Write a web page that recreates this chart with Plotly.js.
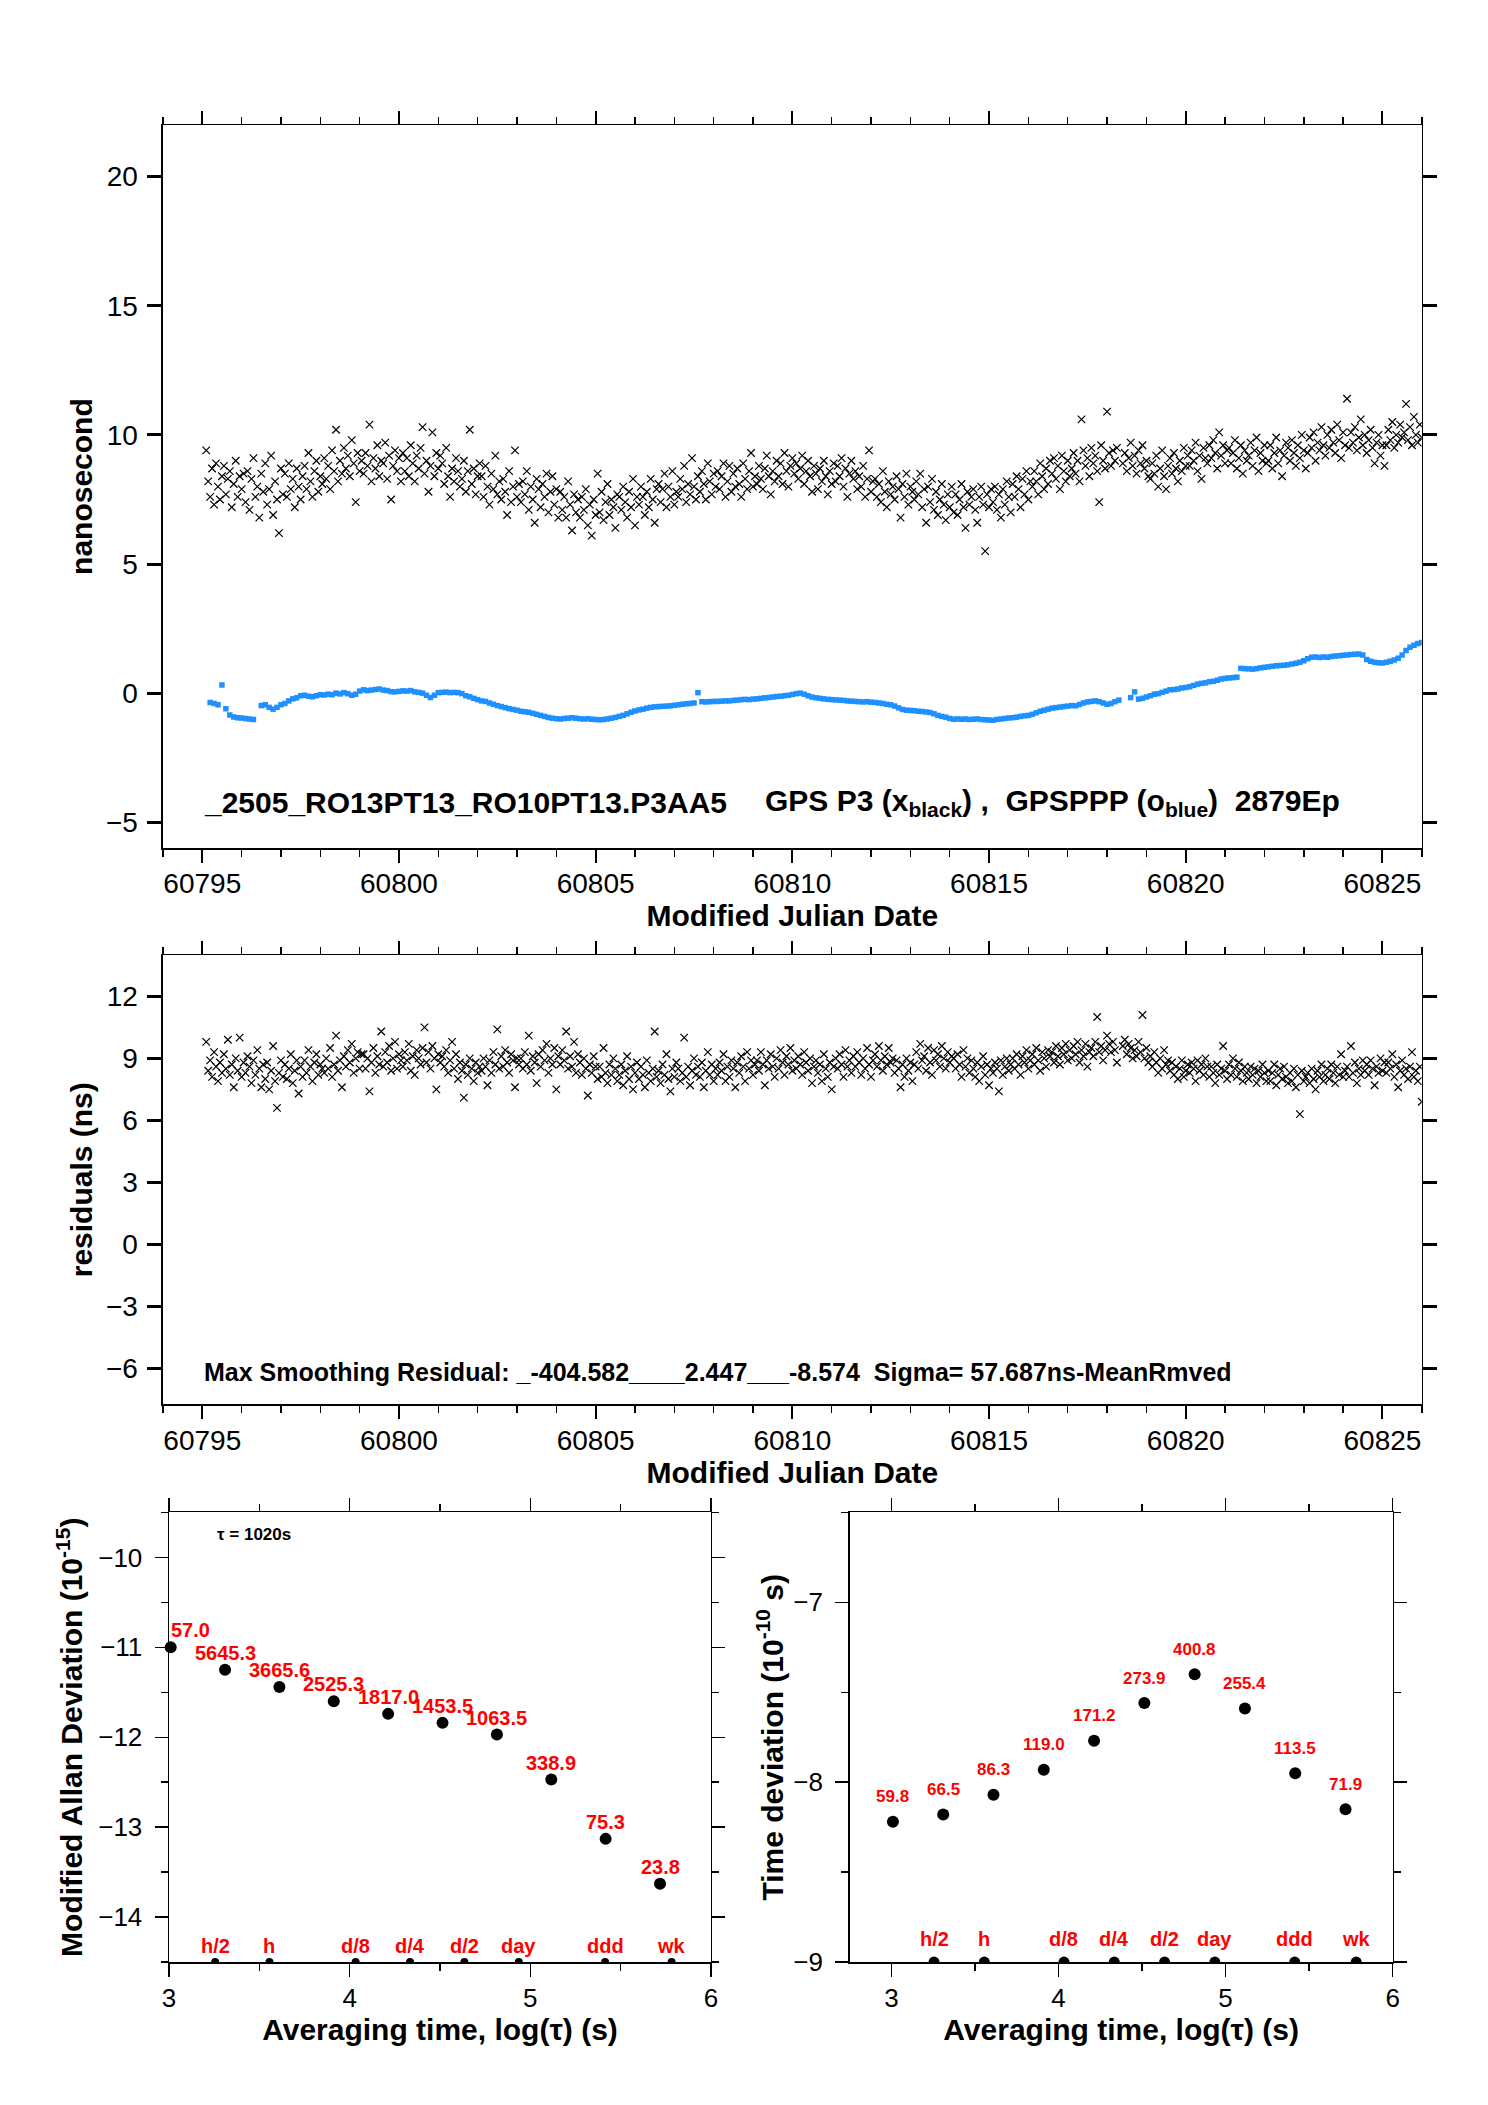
<!DOCTYPE html>
<html>
<head>
<meta charset="utf-8">
<script src="https://cdn.plot.ly/plotly-3.0.1.min.js"></script>
<style>html,body{margin:0;padding:0;background:#fff;}#chart{width:1488px;height:2105px;}</style>
</head>
<body>
<div id="chart"></div>
<script>
// ---------------- DATA ----------------
// GPS P3 (black x) offsets, ns; epochs start at MJD 60795.10, step 0.05 d
const p3Start = 60795.10;
const p3Step = 0.05;
const p3Offset = [
9.4,8.2,7.6,8.7,7.3,8.9,8.0,7.5,8.4,8.8, 7.7,8.3,8.6,7.2,8.1,9.0,7.6,8.4,7.9,8.5,
7.4,8.6,7.1,8.3,9.1,7.6,8.0,6.8,8.5,7.8, 8.9,7.3,7.9,9.2,6.9,8.2,7.5,6.2,8.7,7.7,
8.5,7.6,8.9,7.9,8.3,7.2,8.7,8.0,7.5,8.4, 8.8,7.9,9.3,8.2,7.6,8.6,9.0,7.8,8.4,8.1,
9.1,8.3,8.8,7.9,9.4,8.6,10.2,8.2,9.0,8.5, 9.5,8.7,9.2,8.4,9.8,8.9,7.4,9.3,8.6,9.0,
8.5,9.3,8.8,10.4,8.2,9.1,8.7,9.6,8.4,9.0, 8.9,9.7,8.3,9.2,7.5,8.8,9.4,8.6,9.1,8.2,
9.3,8.6,9.1,8.4,9.6,8.9,8.2,9.2,8.7,9.5, 10.3,8.5,9.0,7.8,8.8,10.1,8.4,9.3,8.7,9.2,
8.9,8.1,9.5,8.4,7.6,8.7,8.2,9.1,8.6,8.0, 8.3,9.0,7.8,8.6,10.2,8.1,8.7,7.7,8.4,8.9,
8.4,7.6,8.8,8.0,7.3,8.5,7.9,9.2,7.7,8.2, 7.5,8.3,7.8,6.9,8.6,7.4,8.0,9.4,7.6,8.1,
7.4,8.2,7.7,8.6,7.1,8.0,7.5,6.6,8.3,7.9, 7.2,8.1,7.6,8.5,7.0,7.8,8.4,7.3,7.9,6.8,
7.8,7.1,7.6,6.8,8.2,7.3,6.3,7.7,7.0,7.5, 6.8,7.6,7.1,7.9,6.5,7.3,6.1,7.5,6.9,8.5,
7.0,7.8,6.7,7.4,8.1,6.9,7.5,7.2,6.4,7.7, 7.6,7.1,8.0,7.4,6.8,7.8,7.2,8.3,6.5,7.6,
7.3,8.0,7.6,6.9,7.8,7.2,8.3,7.5,6.6,7.9, 8.1,7.4,7.9,8.5,7.2,8.0,7.6,8.6,7.3,7.8,
7.6,8.3,7.9,8.8,7.4,8.1,7.7,9.1,8.0,7.5, 8.4,7.8,8.6,8.1,7.5,8.9,8.2,7.7,8.5,8.0,
8.6,7.9,8.4,8.9,7.6,8.2,8.8,7.8,8.5,8.0, 8.7,8.1,7.6,8.9,8.3,7.9,8.6,9.3,8.0,8.4,
8.1,8.8,8.3,7.9,8.7,9.2,8.4,7.7,8.6,8.2, 9.0,8.4,8.9,8.1,9.3,8.6,8.0,8.8,9.1,8.5,
8.9,8.3,8.7,9.2,8.1,8.6,9.0,8.4,7.8,8.8, 8.5,7.9,8.7,8.2,9.0,8.4,7.7,8.6,8.1,8.9,
8.2,8.8,8.4,9.1,8.0,8.7,7.6,8.5,9.0,8.3, 8.6,7.9,8.4,8.0,8.8,7.6,8.3,9.4,7.8,8.2,
8.3,7.6,8.1,7.4,8.6,7.8,7.2,8.2,7.7,8.0, 7.5,8.4,7.9,6.8,8.1,7.6,8.5,7.3,8.0,7.8,
7.5,8.2,7.7,8.5,7.2,7.9,6.6,8.0,7.4,8.3, 7.1,7.8,6.9,7.5,8.1,7.3,6.7,7.7,7.2,8.0,
7.0,7.7,6.9,7.5,8.1,7.2,6.4,7.8,7.3,7.6, 7.9,7.1,6.6,7.6,8.0,7.3,5.5,7.7,7.2,7.9,
7.4,8.0,7.1,7.7,6.8,7.9,7.3,8.2,7.6,7.0, 8.1,7.6,8.4,7.9,7.2,8.3,7.7,8.6,7.5,8.2,
8.0,8.6,8.2,7.7,8.9,8.4,7.9,8.7,8.1,9.0, 8.5,9.1,8.3,8.8,7.9,9.2,8.6,8.2,9.0,8.4,
8.7,9.3,8.5,9.0,8.2,10.6,9.4,8.8,9.1,8.4, 9.5,8.9,9.2,8.6,7.4,9.6,9.0,8.7,10.9,9.3,
8.8,9.4,9.0,9.5,null,null,8.9,9.3,8.6,9.1, 9.7,8.8,9.2,8.5,9.4,8.9,9.6,8.7,9.0,8.4,
8.3,8.9,8.5,9.2,8.0,8.7,9.4,8.4,7.9,8.8, 9.1,8.5,9.3,8.7,8.2,9.0,8.6,9.5,8.8,9.2,
8.8,9.4,9.0,9.7,8.6,9.2,8.3,9.5,9.1,8.9, 9.6,9.1,9.8,9.3,8.7,10.1,9.2,9.6,8.9,9.4,
9.5,8.9,9.3,9.8,8.7,9.1,9.6,8.5,9.4,9.0, 9.2,9.7,8.8,9.4,9.9,8.6,9.3,9.0,9.6,8.9,
9.0,9.6,8.7,9.3,9.9,8.9,9.4,8.4,9.2,9.7, 9.5,9.0,9.8,9.3,8.8,9.6,9.1,10.0,9.4,8.7,
9.3,9.9,9.5,10.1,9.0,9.7,9.4,10.3,9.6,9.2, 10.0,9.5,10.2,9.7,9.3,10.4,9.8,9.1,10.1,9.6,
11.4,9.5,10.1,9.7,10.3,9.4,9.9,10.6,9.6,10.0, 9.3,9.8,10.2,9.5,8.9,9.7,10.0,9.2,9.6,8.8,
9.6,10.2,9.8,10.5,9.5,10.0,9.7,10.4,9.9,10.1, 11.2,9.8,10.3,9.6,10.7,10.0,9.7,10.4,9.9
];

// GPSPPP (blue o) offsets, ns; epochs start at MJD 60795.2, step 0.1 d
const pppStart = 60795.2;
const pppStep = 0.1;
const pppOffset = [
-0.36,-0.40,-0.45,0.32,-0.60,-0.85,-0.92,-0.95,-0.96,-0.98,
-1.00,-1.02,null,-0.48,-0.45,-0.55,-0.62,-0.55,-0.45,-0.40,
-0.30,-0.22,-0.18,-0.10,-0.08,-0.12,-0.14,-0.10,-0.06,-0.07,
-0.04,-0.06,0.00,-0.03,0.02,-0.02,-0.08,-0.04,0.08,0.13,
0.10,0.12,0.14,0.16,0.12,0.10,0.06,0.05,0.07,0.09,
0.08,0.10,0.05,0.03,0.00,-0.08,-0.17,-0.08,0.02,0.03,
0.04,0.02,0.03,0.02,-0.02,-0.10,-0.14,-0.20,-0.25,-0.30,
-0.32,-0.38,-0.43,-0.48,-0.52,-0.56,-0.60,-0.63,-0.66,-0.70,
-0.72,-0.74,-0.78,-0.82,-0.86,-0.90,-0.94,-0.97,-0.99,-1.00,
-0.98,-0.97,-0.95,-0.97,-0.99,-1.00,-0.99,-1.01,-1.02,-1.03,
-1.02,-1.00,-0.97,-0.94,-0.90,-0.86,-0.80,-0.74,-0.69,-0.65,
-0.62,-0.58,-0.55,-0.53,-0.52,-0.51,-0.50,-0.49,-0.47,-0.45,
-0.43,-0.41,-0.40,-0.38,0.02,-0.33,-0.34,-0.33,-0.32,-0.32,
-0.31,-0.30,-0.30,-0.28,-0.27,-0.25,-0.24,-0.25,-0.23,-0.22,
-0.20,-0.18,-0.17,-0.15,-0.13,-0.12,-0.10,-0.08,-0.05,-0.02,
0.00,-0.04,-0.10,-0.15,-0.18,-0.20,-0.22,-0.24,-0.25,-0.26,
-0.27,-0.28,-0.30,-0.31,-0.32,-0.33,-0.34,-0.33,-0.35,-0.36,
-0.38,-0.40,-0.43,-0.45,-0.50,-0.57,-0.63,-0.66,-0.67,-0.68,
-0.70,-0.71,-0.73,-0.75,-0.80,-0.86,-0.90,-0.93,-0.98,-1.01,
-1.00,-1.01,-1.00,-1.02,-1.01,-1.00,-1.02,-1.03,-1.04,-1.05,
-1.02,-1.00,-0.98,-0.96,-0.95,-0.93,-0.90,-0.88,-0.86,-0.82,
-0.76,-0.70,-0.66,-0.62,-0.58,-0.56,-0.54,-0.52,-0.50,-0.48,
-0.49,-0.44,-0.38,-0.34,-0.32,-0.30,-0.33,-0.38,-0.43,-0.40,
-0.33,-0.27,null,null,-0.17,0.05,-0.23,-0.20,-0.15,-0.10,
-0.04,-0.02,0.03,0.08,0.13,0.14,0.16,0.20,0.22,0.25,
0.30,0.35,0.38,0.40,0.44,0.46,0.50,0.55,0.57,0.59,
0.60,0.62,0.96,0.95,0.94,0.93,0.95,0.98,1.00,1.02,
1.04,1.06,1.07,1.08,1.10,1.13,1.16,1.20,1.26,1.33,
1.39,1.40,1.38,1.40,1.39,1.42,1.44,1.45,1.47,1.48,
1.50,1.51,1.52,1.48,1.30,1.24,1.20,1.18,1.17,1.20,
1.24,1.28,1.35,1.48,1.65,1.78,1.86,1.92,1.96
];

// Residuals (ns), same epochs as GPS P3
const residuals = [
9.8,8.4,8.9,8.1,9.3,8.6,7.9,8.8,8.3,9.2, 8.5,9.9,8.2,8.7,7.6,9.0,8.4,10.0,8.1,8.8,
8.3,9.1,8.6,7.8,8.9,8.2,9.4,8.5,7.6,8.7, 8.0,8.8,7.5,8.4,9.6,7.9,6.6,8.3,8.9,8.1,
8.7,8.0,8.5,9.2,7.8,8.4,8.9,7.3,8.6,8.1, 8.9,8.3,9.4,8.6,7.9,8.8,9.2,8.2,8.7,8.5,
8.3,9.0,8.5,9.5,8.1,8.7,10.1,8.4,8.9,7.6, 9.1,8.6,9.4,8.8,9.7,8.3,9.0,9.3,8.5,9.2,
9.2,8.5,9.0,7.4,8.8,9.5,8.3,9.1,8.7,10.3, 8.6,9.3,8.8,9.6,8.4,9.0,9.8,8.5,9.2,8.9,
8.6,9.3,8.9,9.7,8.4,9.1,8.2,9.4,9.0,8.7, 9.5,10.5,8.8,9.3,8.5,9.6,9.0,7.5,9.2,8.8,
9.1,8.6,9.4,8.3,8.9,9.8,8.5,9.2,8.0,8.8, 8.4,7.1,8.7,8.2,9.0,8.5,7.9,8.8,8.3,8.6,
8.4,9.0,8.6,7.7,8.9,8.3,9.3,8.7,10.4,8.5, 9.1,8.6,9.4,8.8,8.3,9.2,8.9,7.6,9.0,8.7,
9.0,8.5,9.3,8.7,10.1,8.4,9.1,8.8,7.8,9.2, 8.6,9.4,8.9,9.7,8.3,9.0,8.7,9.5,7.5,9.1,
8.7,9.4,8.9,10.3,8.5,9.1,8.6,9.8,8.3,9.2, 8.8,8.2,9.0,8.5,7.2,8.7,8.3,9.1,8.6,8.0,
8.6,8.1,9.5,8.3,7.8,8.7,8.2,9.0,8.5,7.9, 8.2,8.7,7.7,8.4,9.1,8.0,8.6,7.5,8.3,8.8,
8.0,8.6,8.2,7.6,8.9,8.3,7.9,8.5,10.3,8.1, 8.4,7.8,8.7,8.2,9.2,8.0,7.4,8.5,8.1,8.8,
8.5,7.9,8.3,10.0,8.1,8.6,7.7,8.4,9.0,8.2, 8.6,8.1,8.8,7.6,8.4,9.3,8.2,8.7,7.9,8.5,
8.2,8.8,8.4,9.2,7.9,8.6,8.1,8.9,8.5,7.6, 8.8,8.3,9.1,8.6,7.9,9.3,8.5,8.9,8.2,8.7,
8.9,8.4,9.3,8.7,7.7,8.9,8.5,9.2,8.6,8.1, 9.0,8.5,9.4,8.8,8.2,9.1,8.7,9.5,8.4,8.9,
8.5,9.1,8.7,8.2,9.3,8.8,8.4,9.0,7.8,8.6, 8.9,8.3,8.7,7.9,9.2,8.5,8.1,8.8,7.5,8.6,
9.0,8.5,9.2,8.7,8.1,9.4,8.6,8.9,8.3,9.1, 8.6,9.3,8.8,8.2,9.0,8.5,9.5,8.7,8.1,8.9,
9.2,8.6,9.6,8.9,8.4,9.1,8.7,9.5,8.8,9.0, 8.3,8.9,8.5,7.6,8.7,8.1,9.0,8.4,8.8,7.9,
8.7,9.3,8.5,9.7,8.9,9.1,8.4,9.5,8.8,8.2, 9.4,8.9,9.2,8.6,9.6,9.0,8.5,9.3,8.8,9.1,
9.0,8.5,9.2,8.7,8.1,9.4,8.6,9.0,8.3,8.9, 8.5,8.1,8.8,7.9,8.6,9.1,8.2,8.7,7.7,8.5,
8.3,8.8,8.5,7.4,8.9,8.2,8.6,9.0,8.4,8.7, 9.0,8.5,9.2,8.7,8.2,9.1,8.8,9.4,8.5,8.9,
9.2,8.7,9.5,8.9,8.4,9.3,9.0,8.6,9.4,9.1, 9.3,8.8,9.6,9.1,8.7,9.5,9.2,9.7,8.9,9.4,
9.0,9.6,9.2,9.8,8.8,9.4,9.1,9.7,8.6,9.3, 9.5,9.1,9.8,11.0,9.3,9.6,8.9,9.4,10.1,9.7,
9.3,9.8,9.4,8.8,null,null,9.6,9.9,9.2,9.7, 9.5,9.0,9.4,9.1,9.8,9.3,11.1,9.0,9.5,8.8,
9.1,8.6,9.3,8.8,8.3,9.0,8.5,9.4,8.7,8.9, 8.4,8.8,8.2,8.6,8.0,8.5,8.9,8.1,8.4,8.7,
8.3,8.8,8.5,7.9,8.9,8.4,8.7,8.2,9.0,8.6, 8.1,8.6,8.3,7.8,8.7,8.2,8.5,9.6,8.4,8.0,
8.7,8.2,9.0,8.5,8.1,8.8,8.4,7.9,8.6,8.3, 8.0,8.6,8.2,8.5,7.8,8.4,8.1,8.7,8.3,7.9,
8.4,7.9,8.3,8.7,7.7,8.2,8.5,8.0,8.6,8.1, 7.8,8.3,7.9,8.5,7.6,8.2,6.3,8.4,7.9,8.1,
8.3,7.8,8.5,8.0,7.5,8.4,8.1,8.7,7.9,8.2, 8.5,8.0,8.7,8.3,7.8,8.6,8.2,9.2,8.1,8.4,
8.6,8.1,9.6,8.3,8.8,7.8,8.5,8.2,8.9,8.4, 8.7,8.2,8.9,8.5,7.7,8.6,8.3,9.0,8.4,8.8,
8.3,8.8,8.5,9.2,8.1,8.7,7.6,8.4,8.9,8.2, 8.5,8.0,8.6,9.3,8.1,8.4,7.9,8.6,6.9
];

// Stability analysis (log10 values)
const logTau = [3.009, 3.310, 3.611, 3.912, 4.213, 4.514, 4.815, 5.116, 5.417, 5.718];
const madevLog = [-11.00, -11.25, -11.44, -11.60, -11.74, -11.84, -11.97, -12.47, -13.13, -13.63];
const madevLabels = ['57.0', '5645.3', '3665.6', '2525.3', '1817.0', '1453.5', '1063.5', '338.9', '75.3', '23.8'];
const tdevLog = [-8.22, -8.18, -8.07, -7.93, -7.77, -7.56, -7.40, -7.59, -7.95, -8.15];
const tdevLabels = ['59.8', '66.5', '86.3', '119.0', '171.2', '273.9', '400.8', '255.4', '113.5', '71.9'];
const markNames = ['h/2', 'h', 'd/8', 'd/4', 'd/2', 'day', 'ddd', 'wk'];
const markLogTau = [3.255, 3.556, 4.033, 4.334, 4.635, 4.936, 5.414, 5.782];

// ---------------- BUILD ----------------
const FONT = 'Liberation Sans, Arial, Helvetica, sans-serif';
function epochs(start, step, n) { const a = []; for (let i = 0; i < n; i++) a.push(+(start + i * step).toFixed(3)); return a; }
const p3X = epochs(p3Start, p3Step, p3Offset.length);
const pppX = epochs(pppStart, pppStep, pppOffset.length);

const xMarker = {symbol: 'x-thin', size: 7.5, color: 'black', line: {width: 1.2, color: 'black'}};

const traces = [
  {type: 'scatter', mode: 'markers', x: p3X, y: p3Offset, xaxis: 'x', yaxis: 'y', marker: xMarker, name: 'GPS P3'},
  {type: 'scatter', mode: 'markers', x: pppX, y: pppOffset, xaxis: 'x', yaxis: 'y', marker: {symbol: 'square', size: 5.5, color: '#1e90ff'}, name: 'GPSPPP'},
  {type: 'scatter', mode: 'markers', x: p3X, y: residuals, xaxis: 'x2', yaxis: 'y2', marker: xMarker, name: 'residuals'},
  {type: 'scatter', mode: 'markers', x: logTau, y: madevLog, xaxis: 'x3', yaxis: 'y3', marker: {size: 12, color: 'black'}, cliponaxis: false, name: 'MDEV'},
  {type: 'scatter', mode: 'markers', x: markLogTau, y: markLogTau.map(() => -14.5), xaxis: 'x3', yaxis: 'y3', marker: {size: 8, color: 'black'}, cliponaxis: true, name: 'marks'},
  {type: 'scatter', mode: 'markers', x: logTau, y: tdevLog, xaxis: 'x4', yaxis: 'y4', marker: {size: 12, color: 'black'}, cliponaxis: false, name: 'TDEV'},
  {type: 'scatter', mode: 'markers', x: markLogTau, y: markLogTau.map(() => -9), xaxis: 'x4', yaxis: 'y4', marker: {size: 11, color: 'black'}, cliponaxis: true, name: 'marks2'}
];

function ax(extra) {
  return Object.assign({
    showline: true, linecolor: 'black', linewidth: 1.5, mirror: 'allticks',
    ticks: 'outside', tickcolor: 'black', showgrid: false, zeroline: false,
    tickfont: {family: FONT, size: 28, color: 'black'}, fixedrange: true
  }, extra);
}
function ttl(text, standoff) { return {text: text, standoff: standoff, font: {family: FONT, size: 30, color: 'black', weight: 'bold'}}; }
const minorX = (d) => ({ticks: 'outside', ticklen: 7, tickwidth: 1.5, tickcolor: 'black', dtick: d, showgrid: false});
const smallTick = {family: FONT, size: 26, color: 'black'};

const annotations = [];
function ann(o) { annotations.push(Object.assign({showarrow: false, font: {family: FONT, size: 20, color: 'red', weight: 'bold'}}, o)); }

// Panel texts
ann({xref: 'x', yref: 'y', x: 60795.0, y: -4.25, xanchor: 'left', yanchor: 'middle', text: '_2505_RO13PT13_RO10PT13.P3AA5', font: {family: FONT, size: 30, color: 'black', weight: 'bold'}});
ann({xref: 'x', yref: 'y', x: 60809.25, y: -4.25, xanchor: 'left', yanchor: 'middle', text: 'GPS P3 (x<sub>black</sub>) ,\u00a0\u00a0GPSPPP (o<sub>blue</sub>)\u00a0\u00a02879Ep', font: {family: FONT, size: 30, color: 'black', weight: 'bold'}});
ann({xref: 'x2', yref: 'y2', x: 60795.0, y: -6.2, xanchor: 'left', yanchor: 'middle', text: 'Max Smoothing Residual: _-404.582____2.447___-8.574\u00a0\u00a0Sigma= 57.687ns-MeanRmved', font: {family: FONT, size: 25, color: 'black', weight: 'bold'}});
ann({xref: 'x3', yref: 'y3', x: 3.47, y: -9.75, xanchor: 'center', yanchor: 'middle', text: '\u03c4 = 1020s', font: {family: FONT, size: 17, color: 'black', weight: 'bold'}});

logTau.forEach((t, i) => {
  if (i === 0) ann({xref: 'x3', yref: 'y3', x: 3.0, y: madevLog[i], xanchor: 'left', yanchor: 'middle', yshift: 17, text: madevLabels[i]});
  else ann({xref: 'x3', yref: 'y3', x: t, y: madevLog[i], xanchor: 'center', yanchor: 'middle', yshift: 17, text: madevLabels[i]});
  ann({xref: 'x4', yref: 'y4', x: t, y: tdevLog[i], xanchor: 'center', yanchor: 'middle', yshift: 25, text: tdevLabels[i], font: {family: FONT, size: 17, color: 'red', weight: 'bold'}});
});
markLogTau.forEach((t, i) => {
  ann({xref: 'x3', yref: 'y3', x: t, y: -14.5, xanchor: 'center', yanchor: 'middle', yshift: 16, text: markNames[i]});
  ann({xref: 'x4', yref: 'y4', x: t, y: -9, xanchor: 'center', yanchor: 'middle', yshift: 23, text: markNames[i]});
});

const mjdX = {range: [60794, 60826], tick0: 60795, dtick: 5, tickformat: 'd', ticklen: 13, tickwidth: 2, minor: minorX(1), ticklabelstandoff: -3};
const layout = {
  width: 1488, height: 2105, margin: {l: 0, r: 0, t: 0, b: 0},
  paper_bgcolor: 'white', plot_bgcolor: 'white', showlegend: false,
  font: {family: FONT, color: 'black'},
  xaxis: ax(Object.assign({domain: [0.1095, 0.9555], anchor: 'y', title: ttl('Modified Julian Date', 0)}, mjdX)),
  yaxis: ax({domain: [0.5971, 0.9406], range: [-6, 22], tick0: 0, dtick: 5, ticklen: 14, tickwidth: 3, anchor: 'x', ticklabelstandoff: 4, title: ttl('nanosecond', 4)}),
  xaxis2: ax(Object.assign({domain: [0.1095, 0.9555], anchor: 'y2', title: ttl('Modified Julian Date', 0)}, mjdX)),
  yaxis2: ax({domain: [0.3328, 0.5463], range: [-7.75, 14], tick0: 0, dtick: 3, ticklen: 14, tickwidth: 3, anchor: 'x2', ticklabelstandoff: 4, title: ttl('residuals (ns)', 4)}),
  xaxis3: ax({domain: [0.1136, 0.4778], range: [3, 6], tick0: 3, dtick: 1, ticklen: 13, tickwidth: 1.5, minor: minorX(0.5), ticklabelstandoff: -1, tickfont: smallTick, anchor: 'y3', title: ttl('Averaging time, log(\u03c4) (s)', 0)}),
  yaxis3: ax({domain: [0.0679, 0.2815], range: [-14.5, -9.5], tick0: -14, dtick: 1, ticklen: 13, tickwidth: 1.5, minor: minorX(0.5), anchor: 'x3', ticklabelstandoff: 7, tickfont: smallTick, title: ttl('Modified Allan Deviation (10<sup>-15</sup>)', 6)}),
  xaxis4: ax({domain: [0.5710, 0.9359], range: [2.75, 6], tick0: 3, dtick: 1, ticklen: 13, tickwidth: 1.5, minor: minorX(0.5), ticklabelstandoff: -1, tickfont: smallTick, anchor: 'y4', title: ttl('Averaging time, log(\u03c4) (s)', 0)}),
  yaxis4: ax({domain: [0.0679, 0.2815], range: [-9, -6.5], tick0: -9, dtick: 1, ticklen: 13, tickwidth: 1.5, minor: minorX(0.5), anchor: 'x4', ticklabelstandoff: 7, tickfont: smallTick, title: ttl('Time deviation (10<sup>-10</sup> s)', 1)}),
  annotations: annotations
};

Plotly.newPlot('chart', traces, layout, {staticPlot: true, displayModeBar: false});
</script>
</body>
</html>
